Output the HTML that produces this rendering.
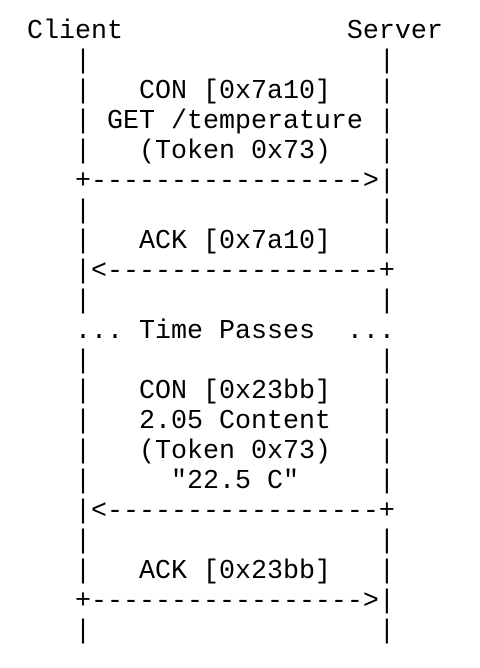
<!DOCTYPE html>
<html><head><style>
html,body{margin:0;padding:0;background:#fff;width:480px;height:668px;overflow:hidden}
pre{position:absolute;left:27px;top:17px;margin:0;font-family:"Liberation Mono",monospace;font-size:26.667px;line-height:30px;color:#000}
</style></head><body>
<pre>Client              Server
   |                  |
   |   CON [0x7a10]   |
   | GET /temperature |
   |   (Token 0x73)   |
   +-----------------&gt;|
   |                  |
   |   ACK [0x7a10]   |
   |&lt;-----------------+
   |                  |
   ... Time Passes  ...
   |                  |
   |   CON [0x23bb]   |
   |   2.05 Content   |
   |   (Token 0x73)   |
   |     "22.5 C"     |
   |&lt;-----------------+
   |                  |
   |   ACK [0x23bb]   |
   +-----------------&gt;|
   |                  |</pre>
</body></html>
